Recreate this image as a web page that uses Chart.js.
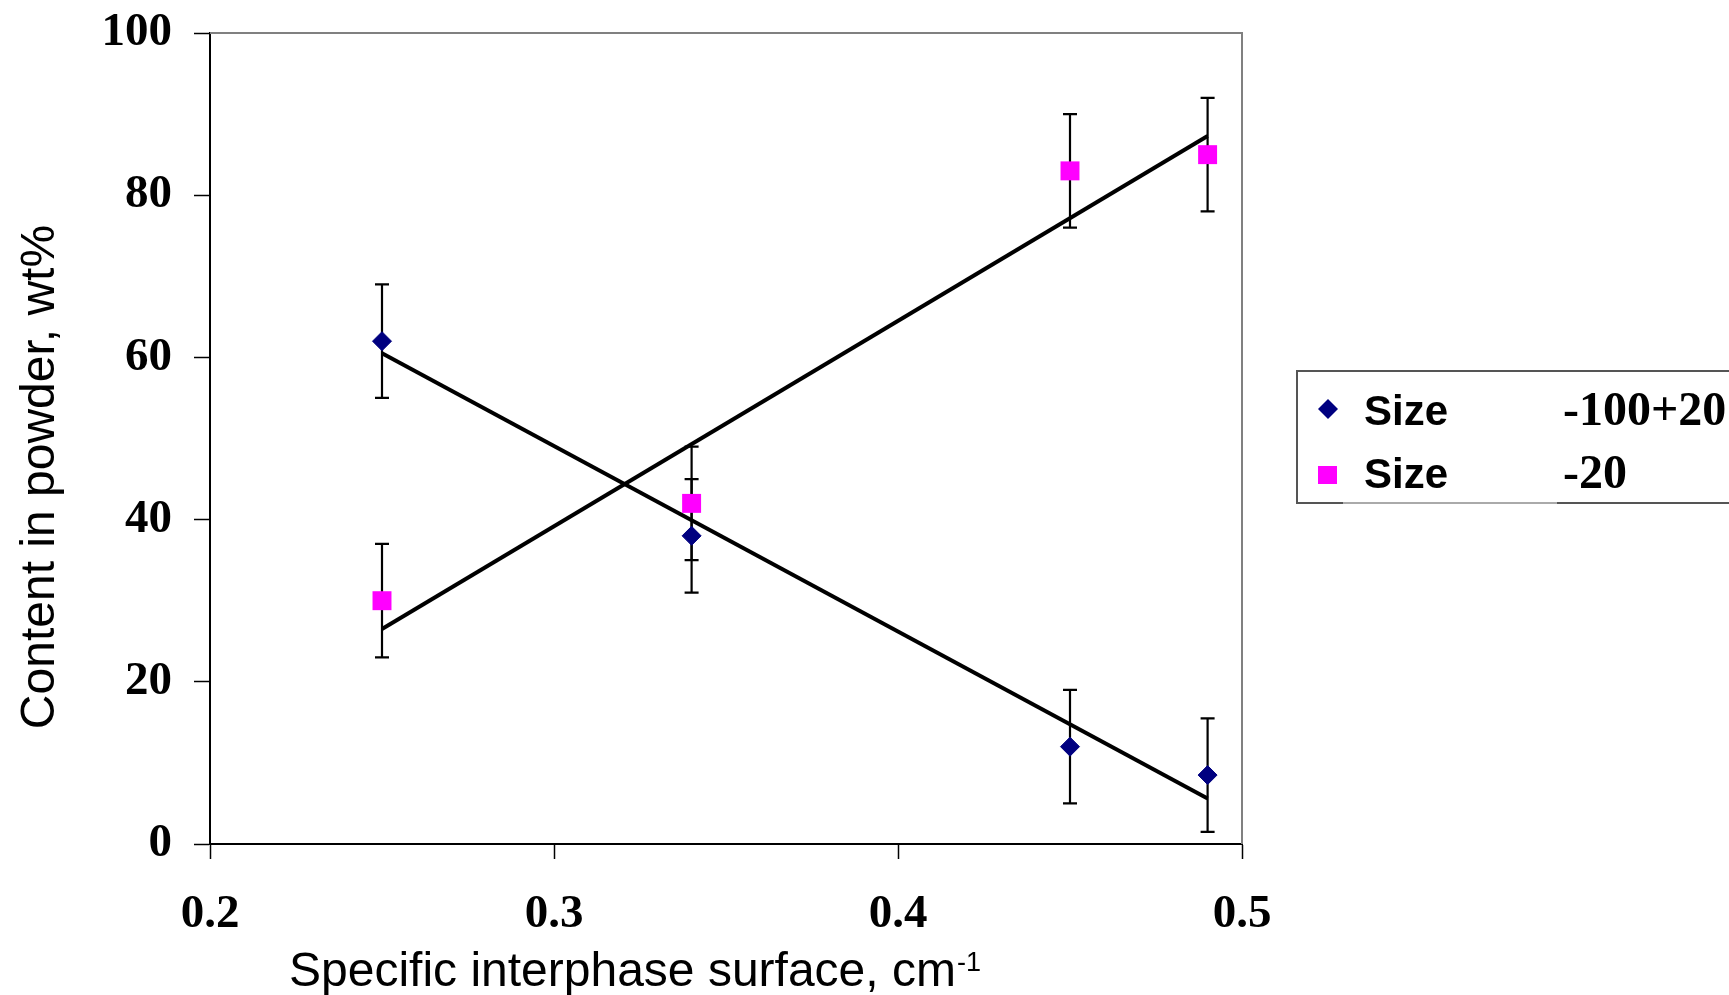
<!DOCTYPE html>
<html>
<head>
<meta charset="utf-8">
<script src="https://cdn.jsdelivr.net/npm/chart.js@4/dist/chart.umd.min.js"></script>
<style>
  html, body { margin: 0; padding: 0; background: #fff; }
  #wrap { width: 1729px; height: 995px; position: relative; }
</style>
</head>
<body>
<div id="wrap"><canvas id="chart"></canvas></div>
<script>
// values
const surfaceX = [0.25, 0.34, 0.45, 0.49];
const coarseContent = [62, 38, 12, 8.5];
const fineContent = [30, 42, 83, 85];
const coarseErr = [7, 7, 7, 7];
const fineErr = [7, 7, 7, 7];
const trendX = [0.25, 0.49];
const coarseTrend = [60.5, 5.6];
const fineTrend = [26.5, 87.3];
const xTicks = [0.2, 0.3, 0.4, 0.5];
const yTicks = [0, 20, 40, 60, 80, 100];
const legendNames = ['Size', 'Size'];
const legendSizes = ['-100+20', '-20'];
const xTitle = 'Specific interphase surface, cm';
const xTitleSup = '-1';
const yTitle = 'Content in powder, wt%';

const NAVY = '#000080';
const MAGENTA = '#ff00ff';
const SANS = '"Liberation Sans", Arial, sans-serif';
const SERIF = '"Liberation Serif", "Times New Roman", serif';

const points = (xs, ys) => xs.map((x, i) => ({ x: x, y: ys[i] }));

const errorBars = {
  id: 'errorBars',
  beforeDatasetsDraw(chart) {
    const { ctx, scales: { x, y } } = chart;
    ctx.save();
    ctx.strokeStyle = '#000';
    ctx.lineWidth = 2.2;
    chart.data.datasets.forEach(ds => {
      if (!ds.errors) return;
      ds.data.forEach((p, i) => {
        const px = x.getPixelForValue(p.x);
        const top = y.getPixelForValue(p.y + ds.errors[i]);
        const bot = y.getPixelForValue(p.y - ds.errors[i]);
        ctx.beginPath();
        ctx.moveTo(px, top); ctx.lineTo(px, bot);
        ctx.moveTo(px - 7, top); ctx.lineTo(px + 7, top);
        ctx.moveTo(px - 7, bot); ctx.lineTo(px + 7, bot);
        ctx.stroke();
      });
    });
    ctx.restore();
  }
};

// grey plot-area frame on top and right
const plotFrame = {
  id: 'plotFrame',
  beforeDatasetsDraw(chart) {
    const { ctx, chartArea: a } = chart;
    ctx.save();
    ctx.strokeStyle = '#808080';
    ctx.lineWidth = 2;
    ctx.beginPath();
    ctx.moveTo(a.left, a.top);
    ctx.lineTo(a.right, a.top);
    ctx.lineTo(a.right, a.bottom);
    ctx.stroke();
    ctx.restore();
  }
};

const axisTitles = {
  id: 'axisTitles',
  afterDraw(chart) {
    const ctx = chart.ctx;
    ctx.save();
    ctx.fillStyle = '#000';
    ctx.textBaseline = 'alphabetic';
    ctx.textAlign = 'left';
    ctx.font = '48px ' + SANS;
    ctx.fillText(xTitle, 289, 986);
    const w = ctx.measureText(xTitle).width;
    ctx.font = '27px ' + SANS;
    ctx.fillText(xTitleSup, 289 + w + 1, 971);

    ctx.translate(54, 477);
    ctx.rotate(-Math.PI / 2);
    ctx.font = '48px ' + SANS;
    ctx.textAlign = 'center';
    ctx.fillText(yTitle, 0, 0);
    ctx.restore();
  }
};

const sideLegend = {
  id: 'sideLegend',
  afterDraw(chart) {
    const ctx = chart.ctx;
    ctx.save();
    ctx.strokeStyle = '#555';
    ctx.lineWidth = 2;
    ctx.beginPath();
    ctx.moveTo(1740, 371);
    ctx.lineTo(1297, 371);
    ctx.lineTo(1297, 503);
    ctx.lineTo(1343, 503);
    ctx.moveTo(1557, 503);
    ctx.lineTo(1740, 503);
    ctx.stroke();
    ctx.strokeStyle = '#aaa';
    ctx.beginPath();
    ctx.moveTo(1343, 503);
    ctx.lineTo(1557, 503);
    ctx.stroke();

    // diamond
    ctx.fillStyle = NAVY;
    ctx.beginPath();
    ctx.moveTo(1318, 409); ctx.lineTo(1328, 399); ctx.lineTo(1338, 409); ctx.lineTo(1328, 419);
    ctx.closePath();
    ctx.fill();
    // square
    ctx.fillStyle = MAGENTA;
    ctx.fillRect(1318, 466, 19, 18);

    ctx.fillStyle = '#000';
    ctx.textAlign = 'left';
    ctx.textBaseline = 'alphabetic';
    ctx.font = 'bold 42px ' + SANS;
    ctx.fillText(legendNames[0], 1364, 425);
    ctx.fillText(legendNames[1], 1364, 488);
    ctx.font = 'bold 48px ' + SERIF;
    ctx.fillText(legendSizes[0], 1563, 425);
    ctx.fillText(legendSizes[1], 1563, 488);
    ctx.restore();
  }
};

new Chart(document.getElementById('chart'), {
  type: 'scatter',
  data: {
    datasets: [
      {
        label: legendNames[0] + ' ' + legendSizes[0],
        data: points(surfaceX, coarseContent),
        errors: coarseErr,
        pointStyle: 'rectRot',
        pointRadius: 9.5,
        pointBackgroundColor: NAVY,
        pointBorderColor: NAVY,
        pointBorderWidth: 1,
        showLine: false
      },
      {
        label: legendNames[1] + ' ' + legendSizes[1],
        data: points(surfaceX, fineContent),
        errors: fineErr,
        pointStyle: 'rect',
        pointRadius: 13.4,
        pointBackgroundColor: MAGENTA,
        pointBorderColor: MAGENTA,
        pointBorderWidth: 0,
        showLine: false
      },
      {
        label: 'trend coarse',
        data: points(trendX, coarseTrend),
        showLine: true,
        borderColor: '#000',
        borderWidth: 4,
        pointRadius: 0,
        fill: false
      },
      {
        label: 'trend fine',
        data: points(trendX, fineTrend),
        showLine: true,
        borderColor: '#000',
        borderWidth: 4,
        pointRadius: 0,
        fill: false
      }
    ]
  },
  options: {
    responsive: true,
    maintainAspectRatio: false,
    animation: false,
    layout: { padding: { top: 33, right: 487, bottom: 0, left: 0 } },
    plugins: {
      legend: { display: false },
      tooltip: { enabled: false }
    },
    scales: {
      x: {
        type: 'linear',
        min: 0.2,
        max: 0.5,
        afterBuildTicks: s => { s.ticks = xTicks.map(v => ({ value: v })); },
        afterFit: s => { s.height = 151; s.paddingLeft = 0; s.paddingRight = 0; },
        grid: { drawOnChartArea: false, drawTicks: true, tickLength: 15, tickColor: '#000', tickWidth: 1.5 },
        border: { display: true, color: '#000', width: 2 },
        ticks: {
          color: '#000',
          padding: 28,
          maxRotation: 0,
          autoSkip: false,
          font: { family: SERIF, size: 47, weight: 'bold' },
          callback: v => v.toFixed(1)
        }
      },
      y: {
        type: 'linear',
        min: 0,
        max: 100,
        afterBuildTicks: s => { s.ticks = yTicks.map(v => ({ value: v })); },
        afterFit: s => { s.width = 210; s.paddingTop = 0; s.paddingBottom = 0; },
        grid: { drawOnChartArea: false, drawTicks: true, tickLength: 16, tickColor: '#000', tickWidth: 1.5 },
        border: { display: true, color: '#000', width: 2 },
        ticks: {
          color: '#000',
          padding: 22,
          autoSkip: false,
          font: { family: SERIF, size: 47, weight: 'bold' },
          callback: v => String(v)
        }
      }
    }
  },
  plugins: [plotFrame, errorBars, axisTitles, sideLegend]
});
</script>
</body>
</html>
